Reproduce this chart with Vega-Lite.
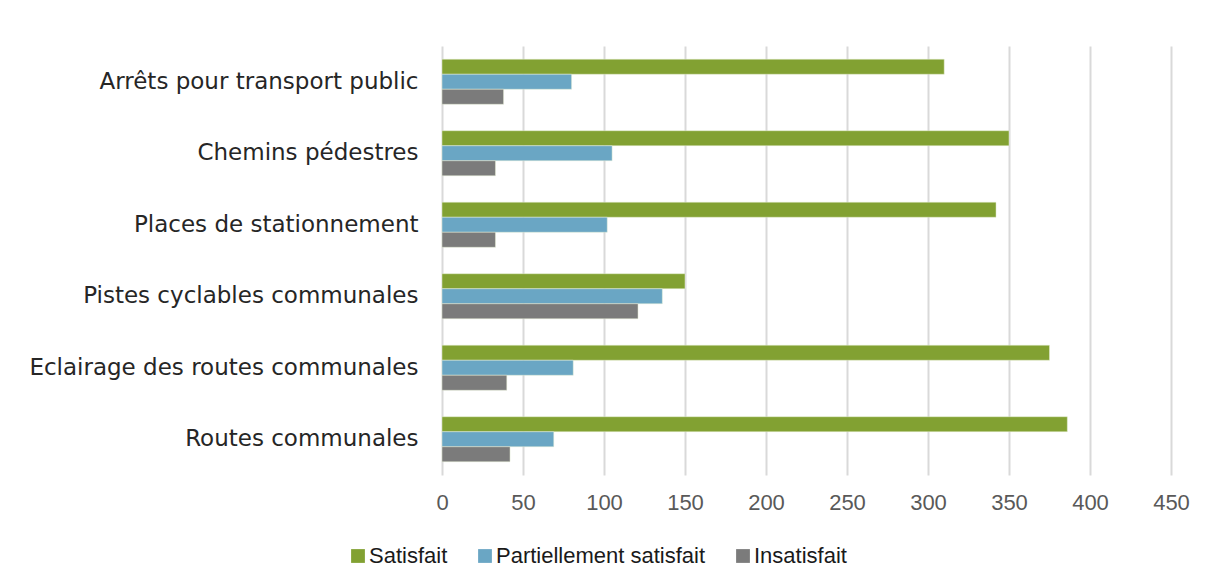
{
  "$schema": "https://vega.github.io/schema/vega-lite/v6.json",
  "autosize": {"type": "none"},
  "width": 729,
  "height": 429,
  "padding": {"left": 442, "top": 46, "right": 34, "bottom": 108},
  "background": "white",
  "config": {"view": {"stroke": null}},
  "data": {
    "values": [
      {"cat": "Arrêts pour transport public", "status": "Satisfait", "value": 310},
      {"cat": "Arrêts pour transport public", "status": "Partiellement satisfait", "value": 80},
      {"cat": "Arrêts pour transport public", "status": "Insatisfait", "value": 38},
      {"cat": "Chemins pédestres", "status": "Satisfait", "value": 350},
      {"cat": "Chemins pédestres", "status": "Partiellement satisfait", "value": 105},
      {"cat": "Chemins pédestres", "status": "Insatisfait", "value": 33},
      {"cat": "Places de stationnement", "status": "Satisfait", "value": 342},
      {"cat": "Places de stationnement", "status": "Partiellement satisfait", "value": 102},
      {"cat": "Places de stationnement", "status": "Insatisfait", "value": 33},
      {"cat": "Pistes cyclables communales", "status": "Satisfait", "value": 150},
      {"cat": "Pistes cyclables communales", "status": "Partiellement satisfait", "value": 136},
      {"cat": "Pistes cyclables communales", "status": "Insatisfait", "value": 121},
      {"cat": "Eclairage des routes communales", "status": "Satisfait", "value": 375},
      {"cat": "Eclairage des routes communales", "status": "Partiellement satisfait", "value": 81},
      {"cat": "Eclairage des routes communales", "status": "Insatisfait", "value": 40},
      {"cat": "Routes communales", "status": "Satisfait", "value": 386},
      {"cat": "Routes communales", "status": "Partiellement satisfait", "value": 69},
      {"cat": "Routes communales", "status": "Insatisfait", "value": 42}
    ]
  },
  "mark": {"type": "bar", "stroke": "#e8f0d8", "strokeWidth": 0.8, "strokeOpacity": 0.6},
  "encoding": {
    "y": {
      "field": "cat",
      "type": "nominal",
      "sort": ["Arrêts pour transport public", "Chemins pédestres", "Places de stationnement", "Pistes cyclables communales", "Eclairage des routes communales", "Routes communales"],
      "scale": {"paddingInner": 0.37, "paddingOuter": 0.185},
      "axis": {
        "title": null,
        "domain": false,
        "ticks": false,
        "labelPadding": 24,
        "labelFont": "DejaVu Sans",
        "labelFontSize": 23,
        "labelColor": "#262626",
        "labelLimit": 500
      }
    },
    "yOffset": {
      "field": "status",
      "type": "nominal",
      "sort": ["Satisfait", "Partiellement satisfait", "Insatisfait"],
      "scale": {"paddingInner": 0, "paddingOuter": 0}
    },
    "x": {
      "field": "value",
      "type": "quantitative",
      "scale": {"domain": [0, 450], "nice": false},
      "axis": {
        "title": null,
        "values": [0, 50, 100, 150, 200, 250, 300, 350, 400, 450],
        "domain": false,
        "ticks": false,
        "grid": true,
        "gridColor": "#d9d9d9",
        "gridWidth": 2,
        "labelFlush": false,
        "labelPadding": 17,
        "labelFont": "Liberation Sans",
        "labelFontSize": 22,
        "labelColor": "#595959"
      }
    },
    "color": {
      "field": "status",
      "type": "nominal",
      "sort": ["Satisfait", "Partiellement satisfait", "Insatisfait"],
      "scale": {
        "domain": ["Satisfait", "Partiellement satisfait", "Insatisfait"],
        "range": ["#82a132", "#6aa6c4", "#7b7b7b"]
      },
      "legend": {
        "title": null,
        "orient": "none",
        "direction": "horizontal",
        "legendX": -95,
        "legendY": 499,
        "symbolType": "square",
        "symbolSize": 190,
        "symbolStrokeWidth": 0,
        "labelFont": "Liberation Sans",
        "labelFontSize": 22,
        "labelColor": "#1a1a1a",
        "labelOffset": 0,
        "columnPadding": 26,
        "labelLimit": 400
      }
    }
  }
}
